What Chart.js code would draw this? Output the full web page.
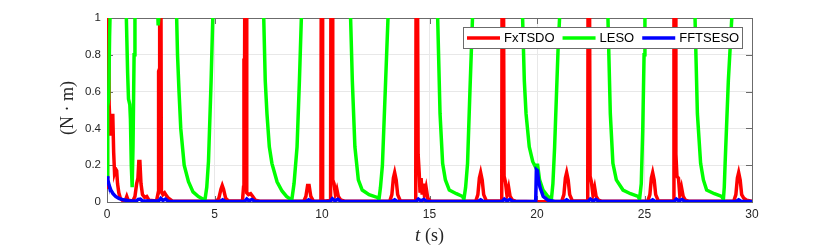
<!DOCTYPE html>
<html>
<head>
<meta charset="utf-8">
<script src="https://cdn.jsdelivr.net/npm/chart.js@4.4.0/dist/chart.umd.min.js"></script>
<style>
  html, body { margin: 0; padding: 0; background: #fff; }
</style>
</head>
<body>
<canvas id="torqueChart" width="830" height="249"></canvas>
<script>
// FxTSDO (red) - time (s) and value (N·m); values above 1 run off the top of the axes
const fxTime = [0, 0.02, 0.06, 0.1, 0.16, 0.21, 0.27, 0.31, 0.35, 0.4, 0.45, 0.49, 0.55, 0.62, 0.75, 0.86, 0.92, 0.98,
  1.2, 1.3, 1.38, 1.44, 1.48, 1.53, 1.58, 1.65, 1.75, 1.85, 1.95,
  2.3, 2.38, 2.4, 2.43, 2.45, 2.5, 2.53, 2.6, 2.68, 2.76, 2.86, 3.05,
  5.1, 5.2, 5.3, 5.36, 5.42, 5.52, 5.65,
  6.3, 6.35, 6.37, 6.4, 6.42, 6.47, 6.5, 6.58, 6.68, 6.78, 6.9, 7.1,
  9.15, 9.25, 9.33, 9.4, 9.48, 9.6, 9.95, 9.97, 10.01, 10.03,
  10.4, 10.42, 10.47, 10.5, 10.56, 10.62, 10.69, 10.76, 10.86, 11.05,
  13.15, 13.25, 13.32, 13.38, 13.45, 13.52, 13.65,
  14.36, 14.38, 14.43, 14.47, 14.52, 14.56, 14.61, 14.66, 14.71, 14.76, 14.84, 14.92, 15.05,
  17.15, 17.25, 17.32, 17.38, 17.45, 17.52, 17.65,
  18.36, 18.38, 18.43, 18.47, 18.53, 18.6, 18.68, 18.75, 18.86, 19.0, 20.0, 20.5,
  21.15, 21.25, 21.32, 21.38, 21.45, 21.52, 21.65,
  22.36, 22.38, 22.43, 22.47, 22.53, 22.6, 22.68, 22.75, 22.86, 23.0,
  25.15, 25.25, 25.32, 25.38, 25.45, 25.52, 25.65,
  26.35, 26.37, 26.42, 26.46, 26.51, 26.58, 26.64, 26.72, 26.8, 26.9, 27.05,
  29.15, 29.25, 29.32, 29.38, 29.45, 29.52, 29.62, 29.75, 30];
const fxValue = [0.08, 1.6, 1.6, 0.53, 0.36, 0.47, 0.47, 0.27, 0.16, 0.18, 0.17, 0.1, 0.05, 0.02, 0.005, 0.01, 0.03, 0.01,
  0.005, 0.03, 0.1, 0.13, 0.22, 0.22, 0.1, 0.04, 0.025, 0.03, 0.01,
  0.005, 0.05, 0.71, 0.72, 1.6, 1.6, 0.06, 0.04, 0.05, 0.035, 0.02, 0.005,
  0.004, 0.02, 0.07, 0.09, 0.07, 0.02, 0.005,
  0.005, 0.08, 0.77, 0.77, 1.6, 1.6, 0.05, 0.04, 0.045, 0.03, 0.01, 0.004,
  0.004, 0.03, 0.09, 0.09, 0.03, 0.005, 0.004, 1.6, 1.6, 0.004,
  0.008, 1.6, 1.6, 0.12, 0.1, 0.045, 0.07, 0.03, 0.012, 0.004,
  0.004, 0.04, 0.13, 0.16, 0.12, 0.04, 0.005,
  0.005, 1.6, 1.6, 0.26, 0.16, 0.05, 0.13, 0.04, 0.1, 0.04, 0.08, 0.02, 0.004,
  0.004, 0.04, 0.13, 0.16, 0.12, 0.04, 0.005,
  0.005, 1.6, 1.6, 0.14, 0.11, 0.04, 0.08, 0.03, 0.01, 0.004, 0.002, 0.002,
  0.004, 0.04, 0.13, 0.16, 0.12, 0.04, 0.005,
  0.005, 1.6, 1.6, 0.14, 0.11, 0.04, 0.08, 0.03, 0.01, 0.004,
  0.004, 0.04, 0.13, 0.16, 0.12, 0.04, 0.005,
  0.005, 1.6, 1.6, 0.26, 0.14, 0.13, 0.04, 0.08, 0.03, 0.01, 0.004,
  0.004, 0.04, 0.13, 0.16, 0.12, 0.04, 0.02, 0.01, 0.004];

// LESO (green)
const lesoTime = [0, 0.02, 0.04, 0.08, 0.12, 0.14, 0.2,
  0.85, 0.9, 0.96, 1.0, 1.06, 1.09, 1.13, 1.17, 1.21, 1.26, 1.3, 1.36,
  2.3, 2.36, 2.38, 2.41, 2.43, 2.5,
  3.2, 3.24, 3.28, 3.35, 3.43, 3.59, 3.79, 4.0, 4.25, 4.48, 4.56, 4.64, 4.72, 4.84, 4.92, 4.98,
  7.25, 7.29, 7.36, 7.44, 7.55, 7.67, 7.91, 8.14, 8.35, 8.53, 8.6, 8.7, 8.84, 8.95, 9.04, 9.1,
  11.29, 11.33, 11.41, 11.53, 11.69, 11.87, 12.19, 12.57, 12.65, 12.72, 12.81, 12.96, 13.07, 13.12,
  15.34, 15.38, 15.49, 15.61, 15.74, 15.92, 16.25, 16.54, 16.6, 16.68, 16.77, 16.88, 17.0, 17.05,
  19.29, 19.33, 19.41, 19.49, 19.64, 19.8, 19.93, 19.98, 20.03, 20.12, 20.28, 20.51, 20.67, 20.74, 20.82, 20.98, 21.05, 21.1,
  23.26, 23.3, 23.41, 23.53, 23.69, 24.0, 24.35, 24.7, 24.77, 24.85, 24.92, 24.98, 25.02, 25.08,
  27.31, 27.35, 27.46, 27.61, 27.74, 27.89, 28.25, 28.59, 28.67, 28.71, 28.75, 28.9, 29.06, 29.12, 30];
const lesoValue = [0.14, 0.4, 0.52, 0.56, 0.9, 1.0, 2.5,
  2.5, 1.0, 0.7, 0.56, 0.53, 0.45, 0.2, 0.08, 0.3, 0.8, 1.0, 2.5,
  1.3, 1.03, 0.96, 0.96, 1.03, 1.3,
  1.4, 1.0, 0.8, 0.6, 0.4, 0.2, 0.11, 0.055, 0.03, 0.015, 0.015, 0.08, 0.22, 0.65, 1.0, 1.4,
  1.3, 1.0, 0.66, 0.48, 0.3, 0.21, 0.11, 0.06, 0.03, 0.015, 0.015, 0.1, 0.3, 0.66, 1.0, 1.4,
  1.4, 1.0, 0.66, 0.3, 0.12, 0.065, 0.04, 0.025, 0.015, 0.08, 0.2, 0.66, 1.0, 1.4,
  1.4, 1.0, 0.48, 0.21, 0.12, 0.065, 0.045, 0.03, 0.015, 0.08, 0.21, 0.6, 1.0, 1.4,
  1.4, 1.0, 0.66, 0.48, 0.3, 0.22, 0.19, 0.2, 0.2, 0.12, 0.065, 0.03, 0.015, 0.1, 0.3, 0.83, 1.0, 1.4,
  1.4, 1.0, 0.48, 0.21, 0.12, 0.065, 0.045, 0.03, 0.015, 0.1, 0.4, 0.8, 1.0, 1.4,
  1.4, 1.0, 0.48, 0.21, 0.12, 0.065, 0.045, 0.03, 0.015, 0.08, 0.21, 0.66, 1.0, 1.4, 2.5];

// FFTSESO (blue)
const fftTime = [0, 0.04, 0.1, 0.18, 0.28, 0.4, 0.55, 0.75, 1.0, 1.35, 1.45, 1.55, 1.65, 2.4, 2.5, 2.6, 2.72, 2.85,
  5.25, 5.38, 5.5, 6.4, 6.5, 6.6, 6.74, 6.88,
  9.25, 9.38, 9.5, 10.38, 10.48, 10.6, 10.74, 10.88,
  13.25, 13.38, 13.5, 14.38, 14.48, 14.6, 14.74, 14.88,
  17.25, 17.38, 17.5, 18.38, 18.48, 18.6, 18.74, 18.88,
  19.94, 19.97, 20.02, 20.07, 20.14, 20.29, 20.5, 20.8,
  21.25, 21.38, 21.5, 22.38, 22.48, 22.6, 22.74, 22.88,
  25.25, 25.38, 25.5, 26.38, 26.48, 26.6, 26.74, 26.88,
  29.25, 29.38, 29.5, 30];
const fftValue = [0.14, 0.12, 0.09, 0.065, 0.045, 0.03, 0.02, 0.012, 0.007, 0.005, 0.014, 0.016, 0.006, 0.005, 0.02, 0.008, 0.016, 0.004,
  0.003, 0.012, 0.003, 0.003, 0.016, 0.006, 0.014, 0.003,
  0.003, 0.012, 0.003, 0.003, 0.018, 0.006, 0.015, 0.003,
  0.003, 0.012, 0.003, 0.003, 0.016, 0.006, 0.014, 0.003,
  0.003, 0.012, 0.003, 0.003, 0.016, 0.006, 0.014, 0.003,
  0.003, 0.175, 0.17, 0.12, 0.08, 0.03, 0.01, 0.004,
  0.003, 0.012, 0.003, 0.003, 0.016, 0.006, 0.014, 0.003,
  0.003, 0.012, 0.003, 0.003, 0.016, 0.006, 0.014, 0.003,
  0.003, 0.012, 0.003, 0.003];

const seriesNames = ['FxTSDO', 'LESO', 'FFTSESO'];
const seriesColors = ['#ff0000', '#00ff00', '#0000ff'];
const xTicks = [0, 5, 10, 15, 20, 25, 30];
const yTicks = [0, 0.2, 0.4, 0.6, 0.8, 1];

function toPoints(ts, vs) {
  return ts.map((t, i) => ({ x: t, y: vs[i] }));
}

const axisColor = '#6b6b6b';

// Box, inward ticks, legend and axis titles (MATLAB style)
const matlabFrame = {
  id: 'matlabFrame',
  beforeDatasetsDraw(chart) {
    const { ctx, chartArea: a, scales } = chart;
    ctx.save();
    ctx.strokeStyle = axisColor;
    ctx.lineWidth = 1;
    ctx.strokeRect(Math.round(a.left) + 0.5, Math.round(a.top) + 0.5,
      Math.round(a.right - a.left), Math.round(a.bottom - a.top));
    ctx.beginPath();
    xTicks.forEach(v => {
      const px = Math.round(scales.x.getPixelForValue(v)) + 0.5;
      ctx.moveTo(px, a.bottom); ctx.lineTo(px, a.bottom - 6);
      ctx.moveTo(px, a.top); ctx.lineTo(px, a.top + 6);
    });
    yTicks.forEach(v => {
      const py = Math.round(scales.y.getPixelForValue(v)) + 0.5;
      ctx.moveTo(a.left, py); ctx.lineTo(a.left + 6, py);
      ctx.moveTo(a.right, py); ctx.lineTo(a.right - 6, py);
    });
    ctx.stroke();
    ctx.restore();
  },
  afterDatasetsDraw(chart) {
    const { ctx, chartArea: a } = chart;
    ctx.save();

    // legend
    ctx.font = '13px "Liberation Sans", Arial, sans-serif';
    const lineLen = 33;
    const widths = seriesNames.map(n => ctx.measureText(n).width);
    let total = 4;
    widths.forEach((w, i) => { total += lineLen + 4 + w + (i < widths.length - 1 ? 8 : 3); });
    const boxH = 21;
    const boxRight = Math.round(a.right) - 10;
    const boxLeft = boxRight - Math.round(total);
    const boxTop = Math.round(a.top) + 9;
    ctx.fillStyle = '#ffffff';
    ctx.fillRect(boxLeft, boxTop, boxRight - boxLeft, boxH);
    ctx.strokeStyle = axisColor;
    ctx.lineWidth = 1;
    ctx.strokeRect(boxLeft + 0.5, boxTop + 0.5, boxRight - boxLeft, boxH);
    let cx = boxLeft + 4;
    const cy = boxTop + boxH / 2 + 0.5;
    seriesNames.forEach((n, i) => {
      ctx.strokeStyle = seriesColors[i];
      ctx.lineWidth = 3.5;
      ctx.beginPath();
      ctx.moveTo(cx, cy); ctx.lineTo(cx + lineLen, cy);
      ctx.stroke();
      cx += lineLen + 4;
      ctx.fillStyle = '#000';
      ctx.textBaseline = 'middle';
      ctx.textAlign = 'left';
      ctx.fillText(n, cx, cy);
      cx += widths[i] + 8;
    });

    // y-axis title
    ctx.fillStyle = '#262626';
    ctx.font = '18px "Liberation Serif", "DejaVu Serif", serif';
    ctx.textAlign = 'center';
    ctx.textBaseline = 'middle';
    ctx.save();
    ctx.translate(68, (a.top + a.bottom) / 2 - 2);
    ctx.rotate(-Math.PI / 2);
    ctx.fillText('(N \u00b7 m)', 0, 0);
    ctx.restore();

    // x-axis title: italic t + (s)
    const midX = (a.left + a.right) / 2;
    const italic = 'italic 19px "Liberation Serif", "DejaVu Serif", serif';
    const upright = '18px "Liberation Serif", "DejaVu Serif", serif';
    ctx.font = italic;
    const wT = ctx.measureText('t').width;
    ctx.font = upright;
    const wS = ctx.measureText(' (s)').width;
    let sx = midX - (wT + wS) / 2;
    ctx.textAlign = 'left';
    ctx.font = italic;
    ctx.fillText('t', sx, 236);
    ctx.font = upright;
    ctx.fillText(' (s)', sx + wT, 236);

    ctx.restore();
  }
};

new Chart(document.getElementById('torqueChart'), {
  type: 'line',
  data: {
    datasets: [
      { label: seriesNames[0], data: toPoints(fxTime, fxValue), borderColor: seriesColors[0], order: 2 },
      { label: seriesNames[1], data: toPoints(lesoTime, lesoValue), borderColor: seriesColors[1], order: 1 },
      { label: seriesNames[2], data: toPoints(fftTime, fftValue), borderColor: seriesColors[2], order: 0 }
    ]
  },
  options: {
    responsive: false,
    animation: false,
    devicePixelRatio: 1,
    datasets: {
      line: { borderWidth: 3.5, pointRadius: 0, tension: 0, fill: false }
    },
    layout: { padding: { top: 18, right: 78, bottom: 0, left: 0 } },
    plugins: {
      legend: { display: false },
      tooltip: { enabled: false }
    },
    scales: {
      x: {
        type: 'linear',
        min: 0,
        max: 30,
        afterBuildTicks: s => { s.ticks = xTicks.map(v => ({ value: v })); },
        afterFit: s => { s.height = 47; },
        grid: { color: '#e8e8e8', drawTicks: false },
        border: { display: false },
        ticks: {
          padding: 5,
          color: '#262626',
          font: { family: '"Liberation Sans", Arial, sans-serif', size: 12 },
          maxRotation: 0
        }
      },
      y: {
        min: 0,
        max: 1,
        afterBuildTicks: s => { s.ticks = yTicks.map(v => ({ value: v })); },
        afterFit: s => { s.width = 107; },
        grid: { color: '#e8e8e8', drawTicks: false },
        border: { display: false },
        ticks: {
          padding: 6,
          color: '#262626',
          font: { family: '"Liberation Sans", Arial, sans-serif', size: 11.5 },
          callback: v => String(Math.round(v * 10) / 10)
        }
      }
    }
  },
  plugins: [matlabFrame]
});
</script>
</body>
</html>
